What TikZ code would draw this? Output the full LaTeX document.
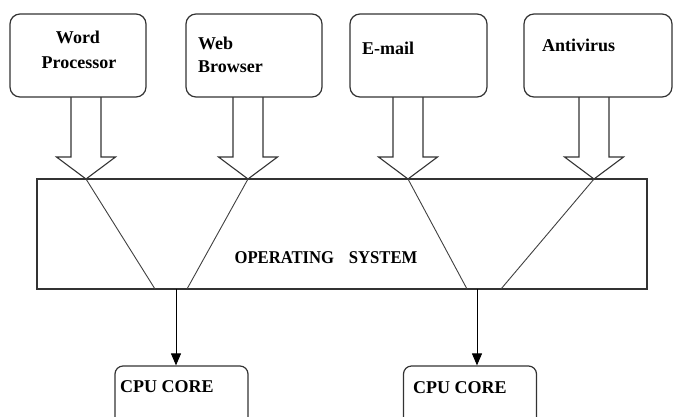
\documentclass[tikz,border=0pt]{standalone}
\usepackage{fontspec}
\setmainfont{Liberation Serif}
\usetikzlibrary{arrows.meta,calc}
\begin{document}
\begin{tikzpicture}[x=1pt,y=-1pt,
  ln/.style={draw=black!80,line width=1.2pt},
  appbox/.style={ln,rounded corners=10pt,minimum width=#1,minimum height=83pt,inner sep=0pt},
  cpubox/.style={ln,rounded corners=8pt,minimum width=133pt,minimum height=64pt,inner sep=0pt},
  osbox/.style={ln,rectangle,minimum width=610pt,minimum height=110pt,inner sep=0pt},
  lbl/.style={font=\bfseries\fontsize{18}{22}\selectfont,inner sep=0pt},
  blockarr/.style={ln,line width=1.1pt,line join=miter},
  thin/.style={draw=black!75,line width=0.9pt},
  down/.style={draw=black,line width=1pt,-{Triangle[width=10pt,length=12pt]}}
]
\useasboundingbox (0,0) rectangle (674,416);
\clip (0,0) rectangle (674,416);

% application boxes
\node[appbox=136pt] (wp) at (78,55.5) {};
\node[appbox=136pt] (wb) at (254,55.5) {};
\node[appbox=137pt] (em) at (418.5,55.5) {};
\node[appbox=148pt] (av) at (598,55.5) {};

\node[lbl,anchor=base] (wp1) at (78,43) {Word};
\node[lbl,anchor=base] (wp2) at (79,68) {Processor};
\node[lbl,anchor=base west] (wb1) at (198,49) {Web};
\node[lbl,anchor=base west] (wb2) at (198,72) {Browser};
\node[lbl,anchor=base west] (em1) at (362,54) {E-mail};
\node[lbl,anchor=base west] (av1) at (542,51) {Antivirus};

% operating system
\node[osbox] (os) at (342,234) {};
\node[lbl,anchor=base,xscale=0.925,transform shape] (ostext) at (326,263) {OPERATING\hspace{16pt}SYSTEM};

% tips on OS top, ends on OS bottom
\coordinate (t1) at (86,179);
\coordinate (t2) at (248,179);
\coordinate (t3) at (408,179);
\coordinate (t4) at (594,179);
\coordinate (b1) at (155,289);
\coordinate (b2) at (187,289);
\coordinate (b3) at (467,289);
\coordinate (b4) at (501,289);
\coordinate (o1) at (176,289);
\coordinate (o2) at (477,289);

% block arrows
\foreach \t in {t1,t2,t3,t4}{
  \draw[blockarr] ([shift={(-15,-82)}]\t) -- ([shift={(-15,-22)}]\t) -- ([shift={(-29.5,-22)}]\t)
     -- (\t) -- ([shift={(29.5,-22)}]\t) -- ([shift={(15,-22)}]\t) -- ([shift={(15,-82)}]\t);
}

% lines within OS
\draw[thin] (t1) -- (b1);
\draw[thin] (t2) -- (b2);
\draw[thin] (t3) -- (b3);
\draw[thin] (t4) -- (b4);

% CPU cores
\node[cpubox] (c1) at (181.5,398) {};
\node[cpubox] (c2) at (470,398) {};
\node[lbl,anchor=base west] (c1t) at (120,392) {CPU CORE};
\node[lbl,anchor=base west] (c2t) at (413,393) {CPU CORE};

\draw[down] (o1) -- (o1 |- c1.north);
\draw[down] (o2) -- (o2 |- c2.north);
\end{tikzpicture}
\end{document}
